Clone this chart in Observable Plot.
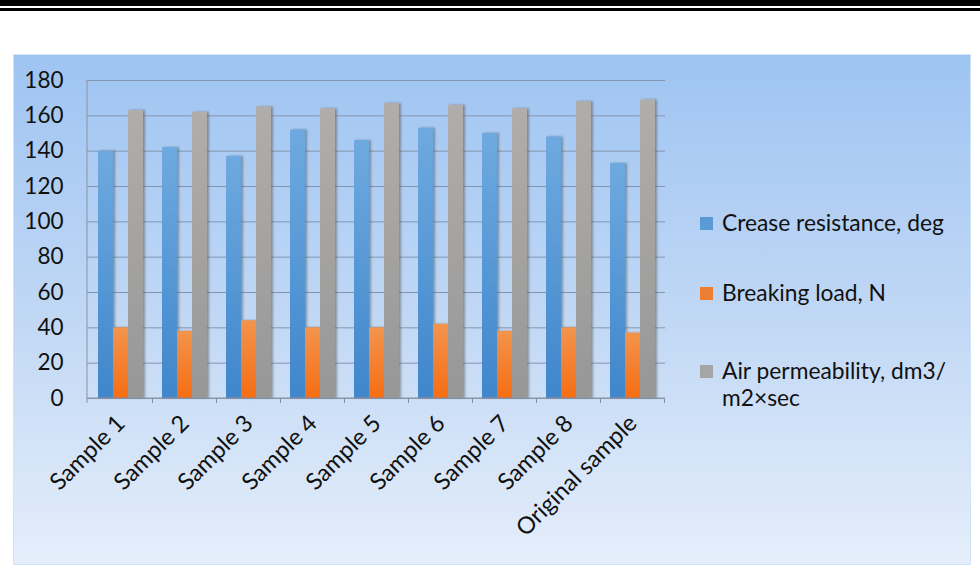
<!DOCTYPE html>
<html>
<head>
<meta charset="utf-8">
<script src="https://cdn.jsdelivr.net/npm/d3@7"></script>
<script src="https://cdn.jsdelivr.net/npm/@observablehq/plot@0.6"></script>
<style>
  html, body { margin: 0; padding: 0; background: #fff; }
  body { width: 980px; height: 565px; position: relative; overflow: hidden; font-family: Lato, "Open Sans", sans-serif; }
  .rule1 { position: absolute; left: 0; top: 0; width: 980px; height: 6px; background: #000; }
  .rule2 { position: absolute; left: 0; top: 8px; width: 980px; height: 3px; background: #000; }
  .panel { position: absolute; left: 13px; top: 54px; width: 958px; height: 511px;
           background: linear-gradient(to bottom, #9ec4f2 0%, #c3d9f5 55%, #e5eefb 100%);
           box-shadow: inset 0 0 0 1px #cfe6f7; }
  #chart { position: absolute; left: 0; top: 0; }
  .legend { position: absolute; left: 700px; top: 0; font-size: 22.8px; color: #111; line-height: 27px; }
  .legend .item { position: absolute; left: 0; white-space: nowrap; }
  .legend .sw { position: absolute; left: 0; width: 13px; height: 13px; }
  .legend .tx { position: absolute; left: 22px; }
</style>
</head>
<body>
<div class="rule1"></div>
<div class="rule2"></div>
<div class="panel"></div>
<div id="chart"></div>
<div class="legend" id="legend"></div>
<script>
const categories = ["Sample 1","Sample 2","Sample 3","Sample 4","Sample 5","Sample 6","Sample 7","Sample 8","Original sample"];
const creaseResistance = [140, 142, 137, 152, 146, 153, 150, 148, 133];
const breakingLoad = [40, 38, 44, 40, 40, 42, 38, 40, 37];
const airPermeability = [163, 162, 165, 164, 167, 166, 164, 168, 169];
const seriesNames = ["Crease resistance, deg", "Breaking load, N", "Air permeability, dm3/\nm2×sec"];
const seriesColors = ["#5b9bd5", "#ed7d31", "#a5a5a5"];
const yTicks = [0, 20, 40, 60, 80, 100, 120, 140, 160, 180];

const toRows = (vals) => categories.map((c, i) => ({category: c, value: vals[i]}));
const crease = toRows(creaseResistance);
const breaking = toRows(breakingLoad);
const air = toRows(airPermeability);

const W = 980, H = 565;
const ML = 87, MR = 315, MT = 80, MB = 167;
const band = (W - ML - MR) / 9 * 0.7;
const third = band / 3;

function defs() {
  const d = d3.create("svg:defs");
  const mk = (id, top, bottom) => {
    const g = d.append("linearGradient").attr("id", id).attr("x1", 0).attr("y1", 0).attr("x2", 0).attr("y2", 1);
    g.append("stop").attr("offset", "0%").attr("stop-color", top);
    g.append("stop").attr("offset", "100%").attr("stop-color", bottom);
  };
  mk("gBlue", "#6eaae0", "#3f86cb");
  mk("gOrange", "#f3944d", "#f56d14");
  mk("gGray", "#b0aeac", "#979797");
  const f = d.append("filter").attr("id", "shadow").attr("x", "-20%").attr("y", "-5%").attr("width", "160%").attr("height", "110%");
  f.append("feDropShadow").attr("dx", 2).attr("dy", 0).attr("stdDeviation", 1.2).attr("flood-color", "#555").attr("flood-opacity", 0.55);
  return d.node();
}

function axisLines(index, scales, values, dimensions) {
  const {width, height, marginLeft, marginRight, marginTop, marginBottom} = dimensions;
  const g = d3.create("svg:g").attr("stroke", "#8a93a3").attr("stroke-width", 1);
  const y0 = scales.y(0);
  g.append("line").attr("x1", marginLeft).attr("x2", marginLeft).attr("y1", marginTop).attr("y2", y0 + 5);
  g.append("line").attr("x1", marginLeft).attr("x2", width - marginRight).attr("y1", y0).attr("y2", y0);
  const step = scales.x.step ? scales.x.step() : (width - marginLeft - marginRight) / categories.length;
  categories.forEach((c, i) => {
    const xb = scales.x(c) + scales.x.bandwidth() / 2 + step / 2;
    g.append("line").attr("x1", xb).attr("x2", xb).attr("y1", y0).attr("y2", y0 + 5);
  });
  return g.node();
}

const chart = Plot.plot({
  width: W, height: H,
  marginLeft: ML, marginRight: MR, marginTop: MT, marginBottom: MB,
  style: {background: "transparent", fontFamily: "Lato, 'Open Sans', sans-serif", fontSize: "22px", color: "#111"},
  x: {domain: categories, paddingInner: 0.3, paddingOuter: 0.15, label: null},
  y: {domain: [0, 180], label: null},
  marks: [
    defs,
    Plot.gridY(yTicks, {stroke: "#8395ad", strokeOpacity: 1, strokeWidth: 1}),
    Plot.barY(crease, {x: "category", y: "value", fill: "url(#gBlue)", insetRight: 2 * third}),
    Plot.barY(breaking, {x: "category", y: "value", fill: "url(#gOrange)", insetLeft: third, insetRight: third}),
    Plot.barY(air, {x: "category", y: "value", fill: "url(#gGray)", insetLeft: 2 * third}),
    axisLines,
    Plot.axisY({ticks: yTicks, tickSize: 0, tickPadding: 24, fontSize: 22.5, fill: "#111", label: null}),
    Plot.axisX({tickSize: 0, tickPadding: 21, tickRotate: -45, fontSize: 23.5, fill: "#111", label: null})
  ]
});
d3.select(chart).selectAll("g[aria-label='bar'] rect").attr("filter", "url(#shadow)");
document.getElementById("chart").appendChild(chart);

const legend = document.getElementById("legend");
const tops = [209, 279, 357];
seriesNames.forEach((name, i) => {
  const item = document.createElement("div");
  item.className = "item";
  item.style.top = tops[i] + "px";
  const sw = document.createElement("div");
  sw.className = "sw";
  sw.style.background = seriesColors[i];
  sw.style.top = "8px";
  const tx = document.createElement("div");
  tx.className = "tx";
  tx.innerHTML = name.split("\n").join("<br>");
  item.appendChild(sw);
  item.appendChild(tx);
  legend.appendChild(item);
});
</script>
</body>
</html>
